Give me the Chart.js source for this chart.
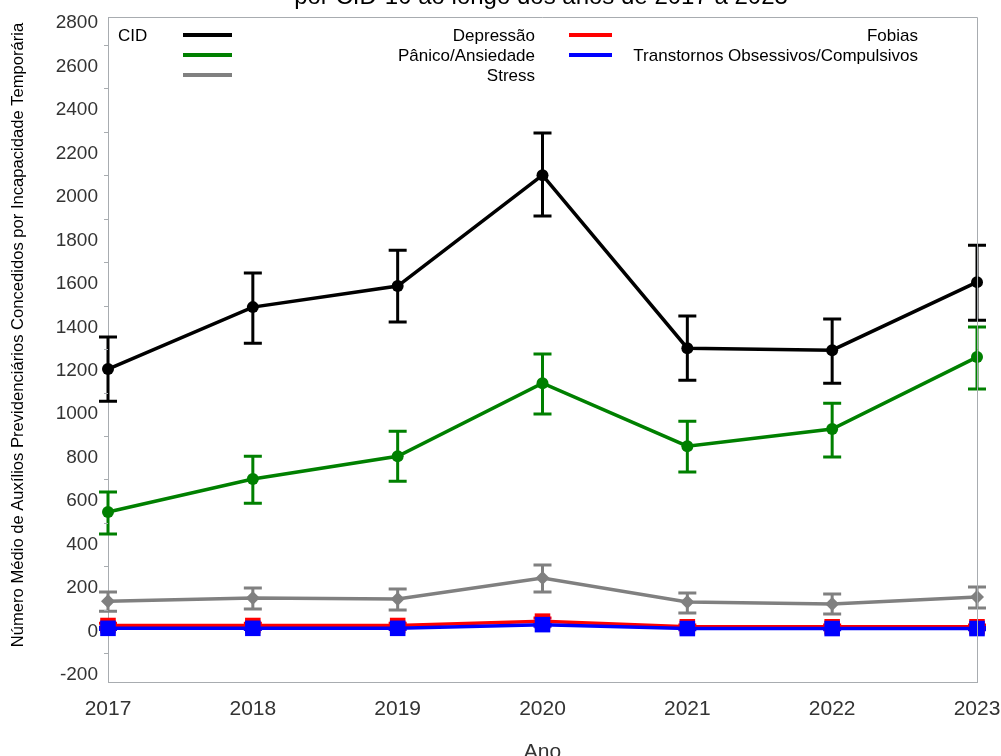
<!DOCTYPE html>
<html>
<head>
<meta charset="utf-8">
<script src="https://cdn.jsdelivr.net/npm/chart.js@4.4.1/dist/chart.umd.min.js"></script>
<style>
  html, body { margin: 0; padding: 0; background: #fff; overflow: hidden; }
  #wrap { width: 1001px; height: 756px; }
</style>
</head>
<body>
<div id="wrap"><canvas id="chart"></canvas></div>
<script>
// data
const years = ['2017', '2018', '2019', '2020', '2021', '2022', '2023'];

const depressao     = [1208, 1493, 1590, 2100, 1304, 1295, 1608];
const depressaoLow  = [1060, 1327, 1424, 1912, 1157, 1143, 1433];
const depressaoHigh = [1355, 1650, 1755, 2294, 1452, 1438, 1778];

const panico     = [550, 702, 807, 1143, 853, 932, 1263];
const panicoLow  = [449, 591, 692, 1001, 734, 803, 1116];
const panicoHigh = [642, 807, 922, 1277, 968, 1051, 1401];

const stress     = [140, 154, 150, 246, 136, 127, 159];
const stressLow  = [94, 104, 99, 182, 85, 81, 108];
const stressHigh = [182, 200, 196, 306, 177, 173, 205];

const fobias     = [28, 28, 28, 48, 22, 22, 22];
const fobiasLow  = [20, 20, 20, 36, 15, 15, 15];
const fobiasHigh = [38, 38, 38, 62, 30, 30, 30];

const toc     = [15, 15, 15, 32, 14, 14, 14];
const tocLow  = [10, 10, 10, 24, 9, 9, 9];
const tocHigh = [20, 20, 20, 40, 19, 19, 19];

const yTicks = [-200, 0, 200, 400, 600, 800, 1000, 1200, 1400, 1600, 1800, 2000, 2200, 2400, 2600, 2800];
const yMinor = [-100, 100, 300, 500, 700, 900, 1100, 1300, 1500, 1700, 1900, 2100, 2300, 2500, 2700];

const titleText = 'por CID-10 ao longo dos anos de 2017 a 2023';
const yTitle = 'Número Médio de Auxílios Previdenciários Concedidos por Incapacidade Temporária';
const xTitle = 'Ano';
const legendTitle = 'CID';

const axisColor = '#a8acb0';
const textColor = '#333';

function series(label, data, low, high, color, style, radius, order, legendCol, legendRow) {
  return {
    label, data, errLow: low, errHigh: high,
    borderColor: color, backgroundColor: color,
    pointBackgroundColor: color, pointBorderColor: color,
    pointStyle: style, pointRadius: radius, pointBorderWidth: 0,
    borderWidth: 3.5, tension: 0, order,
    legendCol, legendRow
  };
}

// error bars, drawn under the lines
const errorBars = {
  id: 'errorBars',
  beforeDatasetsDraw(chart) {
    const { ctx, scales: { x, y } } = chart;
    ctx.save();
    chart.data.datasets.forEach(ds => {
      ctx.strokeStyle = ds.borderColor;
      ctx.lineWidth = 3;
      ds.data.forEach((v, i) => {
        const px = x.getPixelForValue(i);
        const yl = y.getPixelForValue(ds.errLow[i]);
        const yh = y.getPixelForValue(ds.errHigh[i]);
        ctx.beginPath();
        ctx.moveTo(px, yl); ctx.lineTo(px, yh);
        ctx.moveTo(px - 9, yl); ctx.lineTo(px + 9, yl);
        ctx.moveTo(px - 9, yh); ctx.lineTo(px + 9, yh);
        ctx.stroke();
      });
    });
    ctx.restore();
  }
};

// frame, minor ticks, titles and the legend block
const extras = {
  id: 'extras',
  afterDraw(chart) {
    const { ctx, chartArea: a, scales: { y } } = chart;
    ctx.save();
    ctx.strokeStyle = axisColor;
    ctx.lineWidth = 1;
    ctx.beginPath();
    ctx.moveTo(a.left, a.top + 0.5); ctx.lineTo(a.right + 0.5, a.top + 0.5);
    ctx.lineTo(a.right + 0.5, a.bottom);
    ctx.stroke();
    ctx.beginPath();
    yMinor.forEach(v => {
      const py = Math.round(y.getPixelForValue(v)) + 0.5;
      ctx.moveTo(a.left - 4, py); ctx.lineTo(a.left, py);
    });
    ctx.stroke();

    ctx.fillStyle = '#000';
    ctx.font = '24px "Liberation Sans", Arial, sans-serif';
    ctx.textAlign = 'center';
    ctx.textBaseline = 'alphabetic';
    ctx.fillText(titleText, 541, 4);

    ctx.fillStyle = textColor;
    ctx.font = '21px "Liberation Sans", Arial, sans-serif';
    ctx.textBaseline = 'middle';
    ctx.fillText(xTitle, (a.left + a.right) / 2, 752);

    // y axis title
    ctx.save();
    ctx.fillStyle = '#000';
    ctx.font = '16.6px "Liberation Sans", Arial, sans-serif';
    ctx.translate(18, 335);
    ctx.rotate(-Math.PI / 2);
    ctx.fillText(yTitle, 0, 0);
    ctx.restore();

    // legend
    ctx.fillStyle = '#000';
    ctx.textAlign = 'left';
    ctx.font = '17px "Liberation Sans", Arial, sans-serif';
    ctx.fillText(legendTitle, 118, 36);
    const cols = [{ x0: 183, x1: 232, tx: 535 }, { x0: 569, x1: 612, tx: 918 }];
    const rows = [35, 55, 75];
    ctx.textAlign = 'right';
    chart.data.datasets.forEach(ds => {
      const c = cols[ds.legendCol], ry = rows[ds.legendRow];
      ctx.strokeStyle = ds.borderColor;
      ctx.lineWidth = 4;
      ctx.beginPath();
      ctx.moveTo(c.x0, ry); ctx.lineTo(c.x1, ry);
      ctx.stroke();
      ctx.fillText(ds.label, c.tx, ry + 1);
    });
    ctx.restore();
  }
};

new Chart(document.getElementById('chart'), {
  type: 'line',
  data: {
    labels: years,
    datasets: [
      series('Depressão', depressao, depressaoLow, depressaoHigh, '#000000', 'circle', 6, 5, 0, 0),
      series('Pânico/Ansiedade', panico, panicoLow, panicoHigh, '#008000', 'circle', 6, 4, 0, 1),
      series('Stress', stress, stressLow, stressHigh, '#808080', 'rectRot', 7, 3, 0, 2),
      series('Fobias', fobias, fobiasLow, fobiasHigh, '#ff0000', 'rect', 11, 2, 1, 0),
      series('Transtornos Obsessivos/Compulsivos', toc, tocLow, tocHigh, '#0000ff', 'rect', 11, 1, 1, 1)
    ]
  },
  options: {
    responsive: true,
    maintainAspectRatio: false,
    animation: false,
    layout: { padding: { top: 17, right: 24, left: 0, bottom: 0 } },
    plugins: { legend: { display: false }, title: { display: false }, tooltip: { enabled: false } },
    scales: {
      x: {
        offset: false,
        grid: { display: false, drawTicks: true, tickLength: 8, tickColor: axisColor },
        border: { color: axisColor },
        ticks: { color: textColor, font: { family: '"Liberation Sans", Arial, sans-serif', size: 21 }, padding: 7, maxRotation: 0 },
        afterFit(s) { s.height = 74; s.paddingLeft = 0; s.paddingRight = 0; }
      },
      y: {
        min: -232,
        max: 2828,
        afterBuildTicks(s) { s.ticks = yTicks.map(v => ({ value: v })); },
        grid: { display: false, drawTicks: true, tickLength: 7, tickColor: axisColor },
        border: { color: axisColor },
        ticks: {
          color: textColor,
          font: { family: '"Liberation Sans", Arial, sans-serif', size: 19 },
          padding: 3,
          callback: v => String(v)
        },
        afterFit(s) { s.width = 108; s.paddingTop = 0; s.paddingBottom = 0; }
      }
    }
  },
  plugins: [errorBars, extras]
});
</script>
</body>
</html>
